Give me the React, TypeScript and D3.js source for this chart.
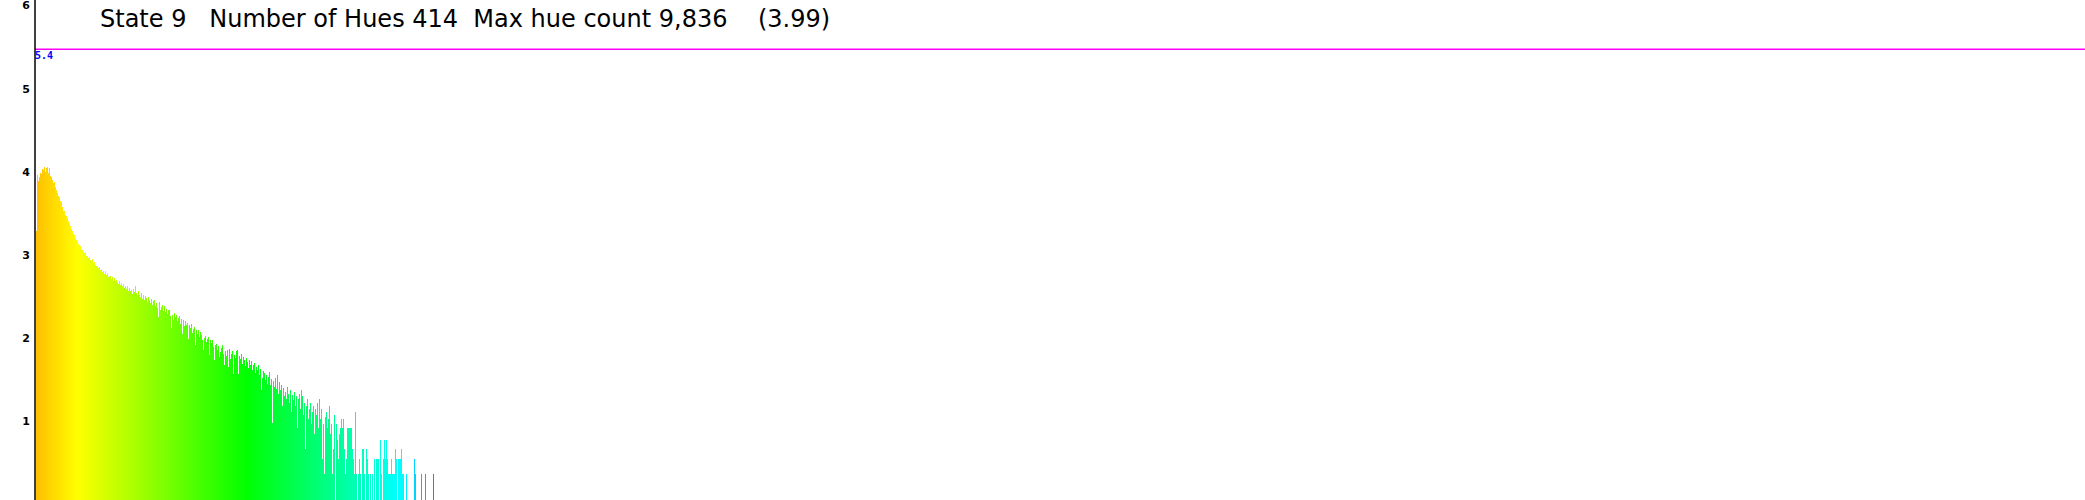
import React, { useRef, useEffect } from 'react';
import { select, scaleLinear, hsl } from 'd3';

// log10 of the pixel count for each hue bin, read left to right
const logCountsA = [
    3.21, 3.89, 3.82, 3.87, 3.91, 3.9, 3.96, 3.95, 3.99, 3.93,
    3.97, 3.98, 3.91, 3.97, 3.88, 3.86, 3.83, 3.79, 3.8, 3.74,
    3.71, 3.67, 3.64, 3.62, 3.57, 3.56, 3.5, 3.46, 3.45, 3.41,
    3.39, 3.37, 3.33, 3.31, 3.27, 3.24, 3.22, 3.18, 3.17, 3.13,
    3.11, 3.1, 3.06, 3.05, 3.03, 3.0, 2.99, 2.98, 2.95, 2.96,
    2.92, 2.92, 2.89, 2.9, 2.87, 2.86, 2.88, 2.83, 2.84, 2.81,
    2.79, 2.8, 2.77, 2.78, 2.75, 2.76, 2.72, 2.74, 2.7, 2.73,
    2.69, 2.71, 2.66, 2.68, 2.67, 2.64, 2.66, 2.62, 2.65, 2.61,
    2.63, 2.6, 2.58, 2.62, 2.57, 2.59, 2.55, 2.58, 2.53, 2.56,
    2.52, 2.55, 2.5, 2.53, 2.49, 2.51, 2.46, 2.52, 2.48, 2.55,
];
const logCountsB = [
    2.47, 2.44, 2.5, 2.45, 2.42, 2.47, 2.4, 2.44, 2.38, 2.43,
    2.41, 2.36, 2.42, 2.39, 2.35, 2.4, 2.33, 2.37, 2.38, 2.31,
    2.35, 2.29, 2.18, 2.36, 2.27, 2.3, 2.32, 2.25, 2.31, 2.24,
    2.28, 2.22, 2.27, 2.26, 2.19, 2.05, 2.21, 2.15, 2.23, 2.18,
    2.2, 2.13, 2.17, 2.19, 2.1, 2.16, 1.98, 2.14, 2.07, 2.13,
    2.09, 2.11, 1.92, 2.08, 2.05, 2.1, 1.99, 2.04, 2.06, 1.85,
    2.02, 1.98, 2.03, 1.94, 2.0, 1.96, 1.9, 1.78, 1.93, 1.95,
    1.88, 1.92, 1.94, 1.72, 1.9, 1.87, 1.91, 1.82, 1.66, 1.84,
    1.86, 1.79, 1.83, 1.7, 1.76, 1.81, 1.84, 1.74, 1.6, 1.77,
    1.71, 1.78, 1.58, 1.8, 1.68, 1.74, 1.77, 1.5, 1.72, 1.69,
];
const logCountsC = [
    1.77, 1.79, 1.5, 1.71, 1.68, 1.74, 1.62, 1.7, 1.66, 1.59,
    1.69, 1.64, 1.57, 1.67, 1.61, 1.65, 1.55, 1.6, 1.63, 1.51,
    1.58, 1.54, 1.6, 1.48, 1.56, 1.3, 1.45, 1.53, 1.51, 1.42,
    1.49, 1.38, 1.46, 1.52, 1.36, 1.44, 0.91, 1.41, 1.34, 1.45,
    1.32, 1.48, 1.26, 1.4, 1.3, 1.36, 1.11, 1.33, 1.23, 1.28,
    1.2, 1.34, 1.26, 1.15, 1.3, 1.04, 1.25, 1.18, 1.28, 1.11,
    1.23, 0.85, 1.2, 1.26, 1.08, 1.3, 1.23, 1.0, 1.15, 0.6,
    1.11, 1.2, 0.95, 1.08, 1.15, 0.9, 1.04, 1.11, 0.78, 1.08,
    1.0, 1.15, 0.85, 1.2, 0.95, 1.08, 0.48, 0.9, 0.3, 0.98,
    1.04, 0.85, 0.95, 1.11, 0.78, 0.9, 0.3, 0.6, 1.0, 0,
];
const logCountsD = [
    0.9, 0.7, 0.48, 0.78, 0.85, 0.95, 0.85, 0.95, 0.6, 0.3,
    0.48, 0.85, 0.85, 0.85, 0.85, 0.85, 0.6, 0.48, 0.3, 1.04,
    0.3, 0, 0.3, 0.48, 0.3, 0, 0.6, 0.6, 0.3, 0,
    0.6, 0.48, 0.3, 0, 0.3, 0, 0.3, 0, 0.48, 0,
    0.48, 0.48, 0.48, 0, 0.7, 0.3, 0, 0.48, 0.7, 0.48,
    0.7, 0.48, 0.3, 0.3, 0.3, 0.48, 0.3, 0.3, 0.3, 0.6,
    0.48, 0, 0.48, 0.48, 0.48, 0.6, 0.3, 0.3, 0, 0,
    0.3, 0, 0, 0, 0, 0, 0, 0, 0.48, 0.3,
    0, 0, 0, 0, 0, 0.3, 0, 0, 0, 0.3,
    0, 0, 0, 0, 0, 0, 0, 0.3,
];

const yTicks = [1, 2, 3, 4, 5, 6];
const refValue = 5.4;
const titleText = 'State 9   Number of Hues 414  Max hue count 9,836    (3.99)';

const WIDTH = 2085;
const HEIGHT = 500;

export default function App() {
    const svgRef: { current: SVGSVGElement | null } = useRef(null);

    useEffect(() => {
        const data = [...logCountsA, ...logCountsB, ...logCountsC, ...logCountsD];
        const svg = select(svgRef.current);
        svg.selectAll('*').remove();

        const axisX = 35;
        const xScale = scaleLinear().domain([0, data.length]).range([36, 36 + data.length]);
        const yScale = scaleLinear().domain([0, 6]).range([498.5, -0.7]);
        // hue of each bin (bins get sparser towards the blue end)
        const hueScale = scaleLinear()
            .domain([0, 41, 210, 298, 368, data.length - 1])
            .range([45, 60, 120, 154, 182, 205]);

        svg.append('rect').attr('width', WIDTH).attr('height', HEIGHT).attr('fill', '#ffffff');

        svg.append('g')
            .selectAll('rect')
            .data(data.map((v, i) => ({ v, i })).filter((d) => d.v > 0))
            .join('rect')
            .attr('x', (d) => xScale(d.i))
            .attr('width', 1)
            .attr('y', (d) => yScale(d.v))
            .attr('height', (d) => HEIGHT - yScale(d.v))
            .attr('fill', (d) => hsl(hueScale(d.i), 1, 0.5).formatHex())
            .attr('shape-rendering', 'crispEdges');

        // reference line
        svg.append('line')
            .attr('x1', axisX)
            .attr('x2', WIDTH)
            .attr('y1', yScale(refValue))
            .attr('y2', yScale(refValue))
            .attr('stroke', '#ff00ff')
            .attr('stroke-width', 1.5);
        svg.append('text')
            .attr('x', axisX)
            .attr('y', yScale(refValue) + 10)
            .attr('fill', '#0000ff')
            .attr('font-family', 'DejaVu Sans Mono')
            .attr('font-weight', 'bold')
            .attr('font-size', 10)
            .text(refValue.toFixed(1));

        // y axis
        svg.append('line')
            .attr('x1', axisX)
            .attr('x2', axisX)
            .attr('y1', 0)
            .attr('y2', HEIGHT)
            .attr('stroke', '#000000')
            .attr('stroke-width', 1.5);
        svg.append('g')
            .selectAll('text')
            .data(yTicks)
            .join('text')
            .attr('x', 30)
            .attr('y', (d) => yScale(d) + 10)
            .attr('text-anchor', 'end')
            .attr('font-family', 'DejaVu Sans')
            .attr('font-weight', 'bold')
            .attr('font-size', 11)
            .attr('fill', '#000000')
            .text((d) => d);

        svg.append('text')
            .attr('x', 100)
            .attr('y', 27)
            .attr('font-family', 'DejaVu Sans')
            .attr('font-size', 24)
            .attr('fill', '#000000')
            .style('white-space', 'pre')
            .text(titleText);
    }, []);

    return (
        <svg
            ref={svgRef}
            width={WIDTH}
            height={HEIGHT}
            style={{ position: 'absolute', left: 0, top: 0, display: 'block' }}
        />
    );
}
